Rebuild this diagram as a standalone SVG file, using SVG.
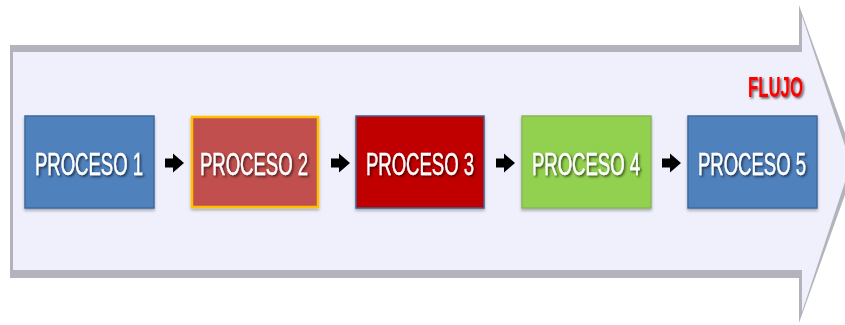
<svg xmlns="http://www.w3.org/2000/svg" width="845" height="325" viewBox="0 0 845 325">
<defs>
<style>
.box{stroke-width:1.5}
.lbl{font-family:"Liberation Sans",Arial,sans-serif;font-size:31px;fill:#ffffff;text-anchor:middle;stroke:#ffffff;stroke-width:0.4}
.flujo{font-family:"Liberation Sans",Arial,sans-serif;font-weight:bold;font-size:30px;fill:#ff0000}
.conn{fill:#000000}
</style>
<filter id="ts" x="-10%" y="-20%" width="130%" height="150%">
<feDropShadow dx="1.5" dy="1.5" stdDeviation="1" flood-color="#000000" flood-opacity="0.65"/>
</filter>
<filter id="bs" x="-5%" y="-5%" width="110%" height="120%">
<feDropShadow dx="0" dy="2" stdDeviation="1.5" flood-color="#000000" flood-opacity="0.3"/>
</filter>
<path id="sarrow" d="M0,-4.5 H8 V-9.5 L19,0 L8,9.5 V4.5 H0 Z"/>
</defs>
<rect width="845" height="325" fill="#ffffff"/>
<g id="flow-arrow">
<polygon points="10,45 799,45 799,5 856,164 799,323 799,278 10,278" fill="#b3b3bb"/>
<polygon points="13,52 802,52 802,16 851,164 802,312 802,270 13,270" fill="#eff0fc"/>
<text class="flujo" x="748" y="97" textLength="55" lengthAdjust="spacingAndGlyphs" filter="url(#ts)">FLUJO</text>
</g>
<g id="connectors">
<use href="#sarrow" class="conn" x="165" y="163"/>
<use href="#sarrow" class="conn" x="331" y="163"/>
<use href="#sarrow" class="conn" x="496" y="163"/>
<use href="#sarrow" class="conn" x="662" y="163"/>
</g>
<g id="p1">
<rect class="box" x="25" y="116" width="129" height="92" fill="#4f81bd" stroke="#3d6aa0" filter="url(#bs)"/>
<text class="lbl" x="89" y="175" textLength="108" lengthAdjust="spacingAndGlyphs" filter="url(#ts)">PROCESO 1</text>
</g>
<g id="p2">
<rect x="192" y="117" width="126" height="90" fill="#c0504d" stroke="#ffc000" stroke-width="2.5" filter="url(#bs)"/>
<text class="lbl" x="254" y="175" textLength="108" lengthAdjust="spacingAndGlyphs" filter="url(#ts)">PROCESO 2</text>
</g>
<g id="p3">
<rect class="box" x="356" y="116" width="128" height="92" fill="#c00000" stroke="#3f5f8f" filter="url(#bs)"/>
<text class="lbl" x="420" y="175" textLength="108" lengthAdjust="spacingAndGlyphs" filter="url(#ts)">PROCESO 3</text>
</g>
<g id="p4">
<rect class="box" x="522" y="116" width="129" height="92" fill="#92d050" stroke="#8ab85a" filter="url(#bs)"/>
<text class="lbl" x="586" y="175" textLength="108" lengthAdjust="spacingAndGlyphs" filter="url(#ts)">PROCESO 4</text>
</g>
<g id="p5">
<rect class="box" x="688" y="116" width="129" height="92" fill="#4f81bd" stroke="#3d6aa0" filter="url(#bs)"/>
<text class="lbl" x="752" y="175" textLength="108" lengthAdjust="spacingAndGlyphs" filter="url(#ts)">PROCESO 5</text>
</g>
</svg>
